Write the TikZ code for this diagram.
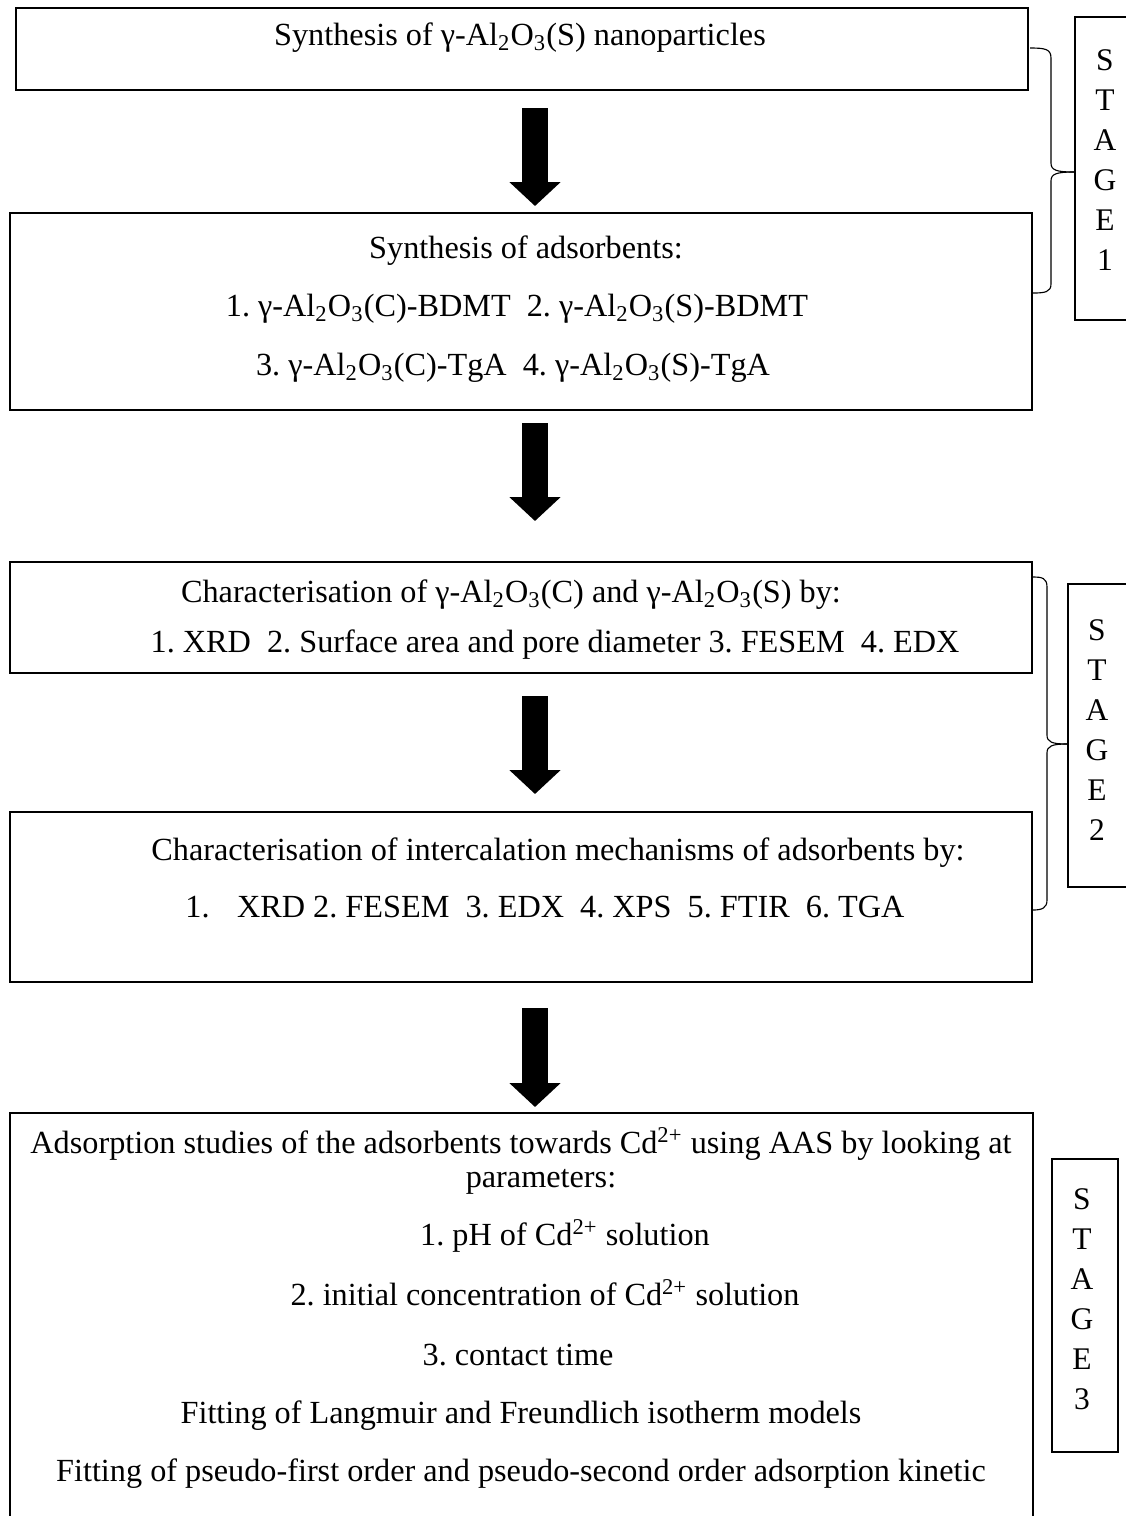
\documentclass[tikz,border=0pt]{standalone}
\usepackage{fontspec}
\setmainfont{Liberation Serif}
\usetikzlibrary{arrows.meta,fit}
\frenchspacing
\newcommand\gAl{γ-Al\textsubscript{2}O\textsubscript{3}}
\newcommand\Cdion{Cd\textsuperscript{2+}}
\begin{document}
\frenchspacing
\begin{tikzpicture}[x=0.4pt,y=-0.4pt,
  box/.style={draw, line width=0.8pt, inner sep=0pt},
  txt/.style={font=\fontsize{12.9}{15}\selectfont, inner sep=0pt, anchor=mid},
  stagetxt/.style={font=\fontsize{12.6}{16}\selectfont, align=center, inner sep=0pt},
  bigarrow/.style={line width=10.4pt, -{Triangle[width=20pt,length=9.6pt]}},
  bracepath/.style={line width=0.45pt}]
\useasboundingbox (0,0) rectangle (1126,1516);
\clip (0,0) rectangle (1126,1516);
\coordinate (ax) at (535,0);
% main boxes
\node[box, fit={(16,8) (1028,90)}] (b1) {};
\node[box, fit={(10,213) (1032,410)}] (b2) {};
\node[box, fit={(10,562) (1032,673)}] (b3) {};
\node[box, fit={(10,812) (1032,982)}] (b4) {};
\node[box, fit={(10,1113) (1033,1580)}] (b5) {};
% stage boxes
\node[box, fit={(1075,17) (1140,320)}] (s1) {};
\node[box, fit={(1068,584) (1140,887)}] (s2) {};
\node[box, fit={(1052,1159) (1118,1452)}] (s3) {};
\node[stagetxt] (s1t) at (1105,160) {S\\T\\A\\G\\E\\1};
\node[stagetxt] (s2t) at (1097,730) {S\\T\\A\\G\\E\\2};
\node[stagetxt] (s3t) at (1082,1299) {S\\T\\A\\G\\E\\3};
% texts
\node[txt] (t1) at (520,40) {Synthesis of \gAl(S) nanoparticles};
\node[txt] (t2a) at (526,253) {Synthesis of adsorbents:};
\node[txt] (t2b) at (517,311) {1. \gAl(C)-BDMT\ \ 2. \gAl(S)-BDMT};
\node[txt] (t2c) at (513,370) {3. \gAl(C)-TgA\ \ 4. \gAl(S)-TgA};
\node[txt] (t3a) at (511,597) {Characterisation of \gAl(C) and \gAl(S) by:};
\node[txt] (t3b) at (555,647) {1. XRD\ \ 2. Surface area and pore diameter 3. FESEM\ \ 4. EDX};
\node[txt] (t4a) at (558,855) {Characterisation of intercalation mechanisms of adsorbents by:};
\node[txt] (t4b) at (545,912) {1.\hspace{11pt}XRD 2. FESEM\ \ 3. EDX\ \ 4. XPS\ \ 5. FTIR\ \ 6. TGA};
\node[txt] (t5a) at (521,1148) {Adsorption studies of the adsorbents towards \Cdion{} using AAS by looking at};
\node[txt] (t5b) at (541,1182) {parameters:};
\node[txt] (t5c) at (565,1240) {1. pH of \Cdion{} solution};
\node[txt] (t5d) at (545,1300) {2. initial concentration of \Cdion{} solution};
\node[txt] (t5e) at (518,1360) {3. contact time};
\node[txt] (t5f) at (521,1418) {Fitting of Langmuir and Freundlich isotherm models};
\node[txt] (t5g) at (521,1476) {Fitting of pseudo-first order and pseudo-second order adsorption kinetic};
% arrows
\draw[bigarrow, shorten <=6.8pt, shorten >=2.4pt] (b1.south -| ax) -- (b2.north -| ax);
\draw[bigarrow, shorten <=4.8pt, shorten >=16pt] (b2.south -| ax) -- (b3.north -| ax);
\draw[bigarrow, shorten <=8.8pt, shorten >=6.8pt] (b3.south -| ax) -- (b4.north -| ax);
\draw[bigarrow, shorten <=10pt, shorten >=2pt] (b4.south -| ax) -- (b5.north -| ax);
% braces
\draw[bracepath] (1030,48) .. controls (1045,48) and (1051,49) .. (1051,58) -- (1051,163)
  .. controls (1051,170) and (1056,172) .. (s1.west |- 0,172);
\draw[bracepath] (s1.west |- 0,172) .. controls (1056,172) and (1051,174) .. (1051,181) -- (1051,284)
  .. controls (1051,292) and (1045,293) .. (1033,293);
\draw[bracepath] (1033,577) .. controls (1042,577) and (1047,578) .. (1047,587) -- (1047,735)
  .. controls (1047,742) and (1052,744) .. (s2.west |- 0,744);
\draw[bracepath] (s2.west |- 0,744) .. controls (1052,744) and (1047,746) .. (1047,753) -- (1047,900)
  .. controls (1047,908) and (1042,910) .. (1033,910);
\end{tikzpicture}
\end{document}
